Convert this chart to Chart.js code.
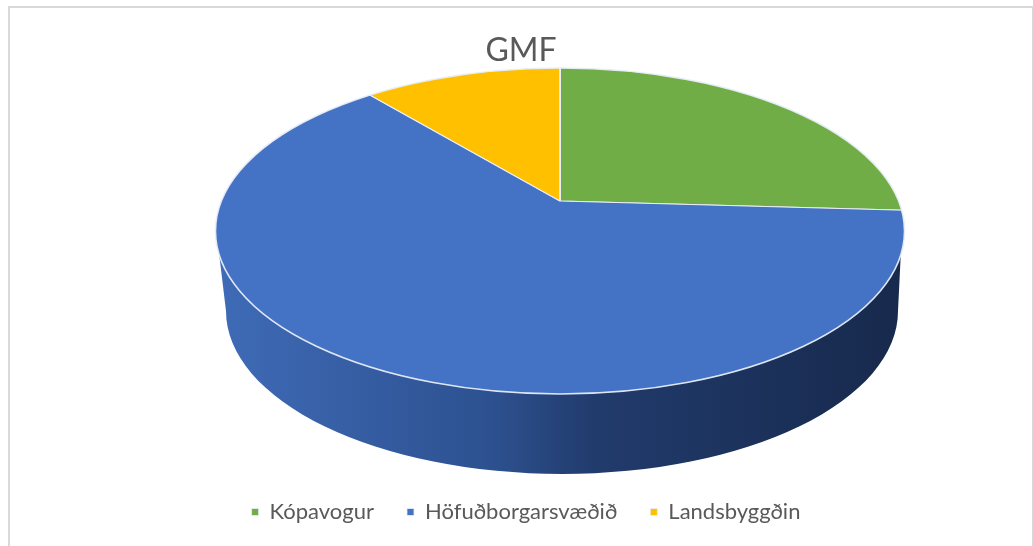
<!DOCTYPE html>
<html><head><meta charset="utf-8">
<style>html,body{margin:0;padding:0;background:#fff;overflow:hidden}
#frame{position:absolute;left:8px;top:6px;width:1022px;height:560px;border:2px solid #d9d9d9}
canvas{position:absolute;left:0;top:0;filter:blur(0.4px)}</style>
<script src="https://cdn.jsdelivr.net/npm/chart.js@4"></script></head>
<body><div id="frame"></div><canvas id="c" width="1033" height="546"></canvas>
<script>
const categories = ['Kópavogur', 'Höfuðborgarsvæðið', 'Landsbyggðin'];
const values = [25.9, 62.9, 11.2];
const colors = ['#70ad47', '#4472c4', '#ffc000'];
const titleText = 'GMF';
// view of the tilted disc
const view = {cx:560, cy:231, rx:344.5, ry:163, apexY:201, bottomCx:562, bottomCy:311, bottomRx:336, bottomRy:163, over:1.3};

const ctx0 = document.getElementById('c').getContext('2d');
ctx0.letterSpacing = '1.7px';

const disc = {
  id:'disc',
  afterLayout(chart){ chart.legend.left += 5; chart.legend.right += 5; },
  beforeDatasetsDraw(chart){
    const c = chart.ctx, v = view, arc = chart.getDatasetMeta(0).data[0];
    const yTop = v.cy + 24, xTop = v.rx*Math.sqrt(1-(24/v.ry)**2);
    const g = c.createLinearGradient(v.cx-v.rx,0,v.cx+v.rx,0);
    g.addColorStop(0,'#3f6bb7'); g.addColorStop(.4,'#2d5190'); g.addColorStop(.55,'#213b6c'); g.addColorStop(1,'#17294c');
    c.save();
    c.fillStyle = g;
    c.beginPath();
    c.moveTo(v.cx-xTop,yTop);
    c.lineTo(v.bottomCx-v.bottomRx,v.bottomCy);
    c.ellipse(v.bottomCx,v.bottomCy,v.bottomRx,v.bottomRy,0,Math.PI,0,true);
    c.lineTo(v.cx+xTop,yTop);
    c.closePath();
    c.fill();
    c.restore();
    c.save();
    c.beginPath();
    c.ellipse(v.cx,v.cy,v.rx,v.ry,0,0,Math.PI*2);
    c.clip();
    c.translate(v.cx,v.apexY);
    c.scale(v.over*v.rx/arc.outerRadius, v.over*v.ry/arc.outerRadius);
    c.translate(-arc.x,-arc.y);
  },
  afterDatasetsDraw(chart){
    const c = chart.ctx, v = view;
    c.restore();
    c.save();
    c.strokeStyle = 'rgba(232,238,248,0.95)';
    c.lineWidth = 1.6;
    c.beginPath();
    c.ellipse(v.cx,v.cy,v.rx,v.ry,0,0,Math.PI*2);
    c.stroke();
    c.restore();
  }
};

new Chart(ctx0,{
  type:'pie',
  data:{labels:categories,datasets:[{data:values,backgroundColor:colors,borderColor:'#e8eef8',borderWidth:0.8,clip:false}]},
  options:{
    responsive:false,animation:false,
    layout:{padding:{left:9,right:0,top:0,bottom:13}},
    plugins:{
      tooltip:{enabled:false},
      title:{display:true,text:titleText,color:'#595959',font:{family:'Lato',size:32,weight:'normal'},padding:{top:31,bottom:4}},
      legend:{position:'bottom',labels:{color:'#595959',font:{family:'Lato',size:22},boxWidth:7,boxHeight:7,padding:33}}
    }
  },
  plugins:[disc]
});
</script></body></html>
